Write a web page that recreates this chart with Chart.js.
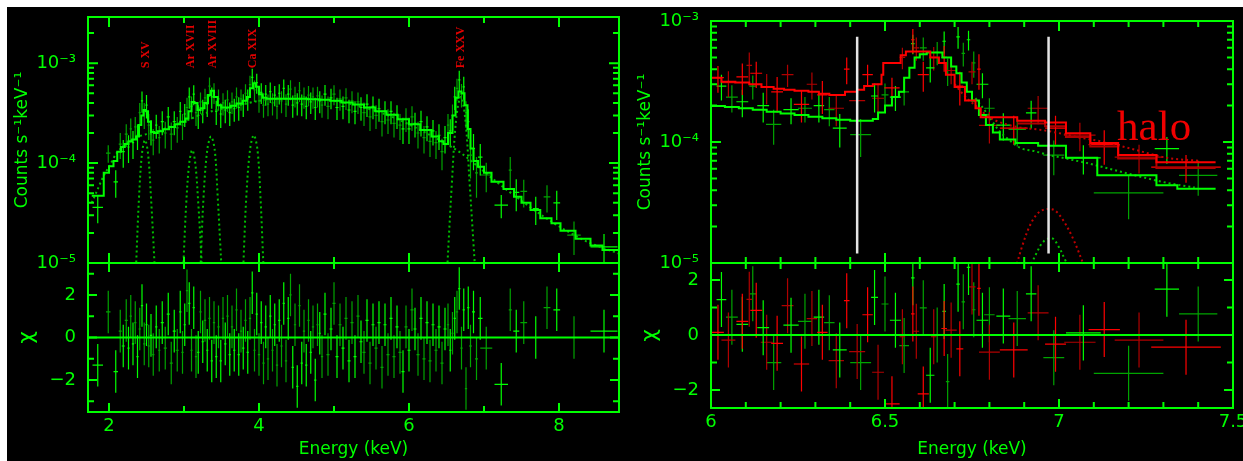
<!DOCTYPE html>
<html>
<head>
<meta charset="utf-8">
<title>Spectra</title>
<script src="https://cdn.jsdelivr.net/npm/chart.js@4.4.1/dist/chart.umd.min.js"></script>
<style>
  html, body { margin: 0; padding: 0; background: #fff; width: 1243px; height: 461px; overflow: hidden; }
  #bg { position: absolute; left: 7px; top: 7px; width: 1236px; height: 454px; background: #000; }
  canvas { position: absolute; }
</style>
</head>
<body>
<div id="bg"></div>
<canvas id="leftSpec"  width="623" height="262" style="left:7px;top:7px;width:623px;height:262px"></canvas>
<canvas id="leftRes"   width="623" height="204" style="left:7px;top:257px;width:623px;height:204px"></canvas>
<canvas id="rightSpec" width="613" height="262" style="left:630px;top:7px;width:613px;height:262px"></canvas>
<canvas id="rightRes"  width="613" height="204" style="left:630px;top:257px;width:613px;height:204px"></canvas>
<script>
/* ═══ spectra + residuals ═══ */
var U = 1e-4;   // spectrum values below are in units of 1e-4 counts s^-1 keV^-1

/* ── left panel: data ── */
var leftE = [
  1.85,1.99,2.09,2.15,2.19,2.23,2.26,2.29,2.32,2.35,
  2.38,2.41,2.44,2.47,2.50,2.53,2.56,2.59,2.63,2.67,
  2.71,2.75,2.79,2.83,2.87,2.91,2.95,2.98,3.01,3.04,
  3.07,3.10,3.13,3.16,3.19,3.22,3.25,3.28,3.31,3.34,
  3.37,3.40,3.43,3.46,3.49,3.52,3.55,3.58,3.61,3.64,
  3.67,3.70,3.73,3.76,3.79,3.82,3.85,3.88,3.91,3.94,
  3.97,4.00,4.03,4.06,4.09,4.12,4.15,4.18,4.21,4.24,
  4.27,4.30,4.33,4.36,4.39,4.42,4.45,4.48,4.51,4.54,
  4.57,4.60,4.63,4.66,4.69,4.72,4.75,4.78,4.81,4.84,
  4.88,4.92,4.96,5.00,5.04,5.08,5.12,5.16,5.20,5.24,
  5.28,5.32,5.36,5.40,5.44,5.48,5.52,5.56,5.60,5.64,
  5.68,5.72,5.76,5.80,5.84,5.88,5.92,5.96,6.00,6.04,
  6.08,6.12,6.16,6.20,6.24,6.28,6.32,6.36,6.40,6.44,
  6.48,6.52,6.55,6.58,6.61,6.64,6.67,6.70,6.73,6.76,
  6.79,6.82,6.86,6.90,6.95,7.03,7.23,7.35,7.43,7.53,
  7.69,7.84,7.97,8.20,8.60];
var leftY = [
  0.36,1.26,0.65,1.55,1.30,1.95,1.45,2.20,1.60,2.30,
  1.90,3.20,4.20,3.10,3.80,2.40,2.10,1.70,2.40,1.80,
  2.60,2.00,2.90,1.95,2.60,2.25,3.30,2.40,3.10,3.60,
  4.60,3.70,4.90,3.20,3.00,4.10,3.40,4.50,3.90,5.90,
  4.60,5.10,3.30,4.40,3.10,4.00,3.40,4.30,3.20,4.10,
  3.50,4.60,3.60,4.40,3.90,5.00,4.40,6.10,7.20,5.40,
  6.40,4.20,5.10,3.80,4.90,3.90,5.20,4.00,4.80,3.70,
  5.00,4.20,5.60,3.90,4.90,5.50,3.80,4.70,4.00,5.30,
  3.90,4.60,3.70,4.80,4.10,4.60,3.60,4.70,4.20,3.80,
  4.90,3.70,4.50,4.90,3.60,4.40,3.70,4.50,3.40,4.20,
  3.30,4.10,3.60,3.20,3.90,2.90,3.70,3.00,3.50,2.60,
  3.30,2.70,3.30,2.50,3.00,2.40,2.20,2.80,2.20,2.90,
  2.50,2.00,2.60,1.80,2.30,1.65,2.10,1.60,1.90,1.30,
  1.80,2.40,2.10,3.00,4.60,5.60,6.80,4.90,5.80,3.20,
  2.60,1.20,1.40,0.80,1.15,0.76,0.38,0.85,0.51,0.52,
  0.35,0.46,0.40,0.19,0.145];
var leftDY = [
  0.11,0.25,0.20,0.45,0.40,0.50,0.45,0.60,0.50,0.60,
  0.55,0.80,1.00,0.90,1.00,0.70,0.60,0.50,0.65,0.55,
  0.70,0.60,0.75,0.60,0.70,0.65,0.80,0.70,0.80,0.90,
  1.10,0.95,1.10,0.85,0.80,1.00,0.90,1.05,1.00,1.30,
  1.10,1.20,0.90,1.05,0.85,1.00,0.90,1.05,0.85,1.00,
  0.90,1.10,0.95,1.05,1.00,1.15,1.05,1.40,1.60,1.30,
  1.45,1.00,1.20,0.95,1.15,0.95,1.20,1.00,1.10,0.95,
  1.15,1.05,1.25,1.00,1.15,1.25,0.95,1.10,1.00,1.20,
  0.95,1.10,0.95,1.10,1.00,1.10,0.90,1.10,1.05,0.95,
  1.15,0.95,1.05,1.10,0.90,1.05,0.95,1.10,0.90,1.05,
  0.85,1.00,0.95,0.85,1.00,0.80,0.95,0.80,0.90,0.75,
  0.85,0.75,0.85,0.70,0.80,0.70,0.65,0.75,0.65,0.80,
  0.70,0.60,0.75,0.55,0.65,0.50,0.60,0.50,0.55,0.45,
  0.55,0.70,0.65,0.85,1.20,1.40,1.60,1.30,1.50,0.95,
  0.85,0.50,0.55,0.35,0.40,0.25,0.10,0.30,0.18,0.16,
  0.11,0.14,0.13,0.07,0.05];
var leftDX = [
  0.07,0.03,0.03,0.02,0.02,0.02,0.015,0.015,0.015,0.015,
  0.015,0.015,0.015,0.015,0.015,0.015,0.015,0.015,0.015,0.015,
  0.02,0.02,0.02,0.02,0.02,0.02,0.015,0.015,0.015,0.015,
  0.015,0.015,0.015,0.015,0.015,0.015,0.015,0.015,0.015,0.015,
  0.015,0.015,0.015,0.015,0.015,0.015,0.015,0.015,0.015,0.015,
  0.015,0.015,0.015,0.015,0.015,0.015,0.015,0.015,0.015,0.015,
  0.015,0.015,0.015,0.015,0.015,0.015,0.015,0.015,0.015,0.015,
  0.015,0.015,0.015,0.015,0.015,0.015,0.015,0.015,0.015,0.015,
  0.015,0.015,0.015,0.015,0.015,0.015,0.015,0.015,0.015,0.015,
  0.02,0.02,0.02,0.02,0.02,0.02,0.02,0.02,0.02,0.02,
  0.02,0.02,0.02,0.02,0.02,0.02,0.02,0.02,0.02,0.02,
  0.02,0.02,0.02,0.02,0.02,0.02,0.02,0.02,0.02,0.02,
  0.02,0.02,0.02,0.02,0.02,0.02,0.02,0.02,0.02,0.02,
  0.02,0.015,0.015,0.015,0.015,0.015,0.015,0.015,0.015,0.015,
  0.015,0.02,0.02,0.02,0.03,0.08,0.09,0.02,0.04,0.045,
  0.04,0.045,0.045,0.09,0.18];
var leftChi = [
  -1.3,1.2,-1.6,0.3,-0.4,0.8,-0.5,1.0,-0.3,0.7,
  -0.9,0.4,1.5,-0.3,0.6,-0.4,0.1,-0.8,0.5,-0.6,
  0.7,-0.5,1.1,-1.2,0.3,-0.6,1.2,-0.7,0.6,2.2,
  1.6,-0.6,1.4,-0.9,-0.7,1.2,-0.2,0.8,-0.6,0.9,
  -1.1,0.7,-0.9,0.5,-1.1,0.9,-0.3,1.0,-0.8,0.5,
  -0.6,1.3,-0.8,0.3,-0.5,0.8,-0.7,0.9,2.1,-0.6,
  1.1,-0.8,0.7,-1.2,0.5,-1.0,1.0,-0.6,0.6,-1.3,
  0.8,-0.4,1.6,-1.1,0.9,2.0,-1.4,0.6,-2.3,1.5,
  -1.2,0.3,-1.3,0.8,-0.7,0.5,-2.0,0.6,0.2,-0.9,
  1.1,-0.8,0.4,1.6,-0.9,0.6,-0.5,0.9,-1.1,0.7,
  -0.9,1.0,-0.2,-0.7,0.8,-1.2,0.6,-0.5,0.7,-1.4,
  0.6,-0.8,0.9,-0.9,0.5,-0.7,-1.6,0.5,-0.6,1.3,
  0.4,-0.8,0.9,-1.0,0.7,-1.1,0.6,-0.6,0.5,-1.2,
  0.4,0.6,-0.6,0.2,0.9,1.2,2.3,-0.5,1.3,-2.4,
  1.4,-0.4,1.2,-1.0,0.9,-0.5,-2.2,1.3,0.3,0.7,
  0.0,1.4,1.3,0.0,0.3];

/* ── left panel: model (bin edges, stepped), continuum and lines ── */
var leftModelE = [1.77,1.93,2.00,2.06,2.11,2.16,2.21,2.26,2.31,2.36,2.40,2.43,2.46,2.49,2.52,2.56,2.60,2.65,2.72,2.80,
  2.88,2.95,3.02,3.06,3.10,3.14,3.18,3.22,3.27,3.32,3.36,3.40,3.45,3.50,3.56,3.62,3.70,3.78,3.84,3.88,
  3.92,3.96,4.00,4.05,4.10,4.20,4.35,4.50,4.65,4.80,4.95,5.10,5.25,5.40,5.55,5.70,5.85,6.00,6.15,6.30,
  6.40,6.46,6.52,6.58,6.62,6.66,6.70,6.74,6.78,6.82,6.86,6.92,7.00,7.10,7.26,7.40,7.50,7.62,7.75,7.90,
  8.02,8.22,8.42,8.58,8.79];
var leftModelY = [0.47,0.80,0.93,1.05,1.30,1.45,1.55,1.65,1.72,1.85,2.40,3.00,3.40,3.30,2.60,2.05,2.00,2.08,2.18,2.30,
  2.45,2.60,2.80,3.30,4.10,4.00,3.40,3.55,4.00,4.80,5.30,4.60,3.80,3.60,3.60,3.75,3.95,4.20,4.60,5.60,
  6.30,5.80,4.90,4.50,4.40,4.40,4.40,4.40,4.35,4.30,4.20,4.05,3.85,3.60,3.30,3.05,2.75,2.45,2.15,1.85,
  1.65,1.55,2.00,3.00,4.50,5.20,5.00,3.80,2.20,1.40,1.05,0.92,0.80,0.65,0.55,0.46,0.40,0.34,0.28,0.25,
  0.21,0.175,0.15,0.135,0.135];
var leftContE = [1.77,1.85,1.93,2.00,2.10,2.20,2.30,2.40,2.50,2.60,2.80,3.00,3.20,3.40,3.60,3.80,
  4.00,4.30,4.60,5.00,5.40,5.80,6.20,6.50,6.70,6.90,7.20,7.50,7.80,8.10,8.40,8.79];
var leftContY = [0.40,0.55,0.75,0.92,1.25,1.50,1.70,1.85,1.95,2.00,2.30,2.60,3.00,3.35,3.60,3.90,
  4.20,4.40,4.40,4.20,3.60,2.85,2.05,1.55,1.25,0.95,0.62,0.42,0.29,0.21,0.16,0.125];
var sLineE   = [2.36,2.40,2.44,2.48,2.52,2.56,2.61], sLineY   = [0.09,0.45,1.25,1.70,1.25,0.45,0.09];
var arLineE  = [2.99,3.03,3.07,3.11,3.15,3.19,3.24], arLineY  = [0.09,0.40,1.00,1.35,1.00,0.40,0.09];
var ar2LineE = [3.22,3.26,3.31,3.36,3.41,3.45,3.50], ar2LineY = [0.09,0.45,1.35,1.85,1.35,0.45,0.09];
var caLineE  = [3.79,3.83,3.88,3.93,3.98,4.02,4.06], caLineY  = [0.09,0.45,1.35,1.90,1.35,0.45,0.09];
var feLineE  = [6.51,6.57,6.63,6.69,6.75,6.81,6.88], feLineY  = [0.09,0.60,2.80,4.60,2.80,0.60,0.09];
var ionE     = [2.49, 3.09, 3.39, 3.92, 6.69];
var ionNames = ['S XV', 'Ar XVII', 'Ar XVIII', 'Ca XIX', 'Fe XXV'];
var ionBase  = 8.9;

/* ── right panel: two data sets (green, red) ── */
var greenE  = [6.03,6.06,6.09,6.12,6.15,6.18,6.23,6.27,6.31,6.34,6.37,6.43,6.47,6.50,6.53,6.555,6.58,6.61,
  6.63,6.65,6.67,6.68,6.71,6.725,6.74,6.755,6.78,6.80,6.84,6.88,6.92,6.985,7.07,7.20,7.31,7.40];
var greenY  = [2.90,2.35,2.15,2.90,2.00,1.40,1.85,1.90,2.00,1.85,1.30,1.15,2.40,2.45,2.35,2.60,6.50,6.00,
  4.10,5.50,6.80,3.90,7.40,5.40,7.00,4.50,3.00,1.90,1.38,1.27,1.74,0.78,0.74,0.38,0.88,0.53];
var greenDY = [0.70,0.60,0.55,0.65,0.55,0.45,0.45,0.45,0.55,0.50,0.40,0.40,0.65,0.60,0.55,0.60,1.20,1.30,
  1.00,1.20,1.40,1.00,1.50,1.20,1.30,1.10,0.70,0.40,0.35,0.35,0.45,0.25,0.20,0.15,0.22,0.17];
var greenDX = [0.014,0.017,0.017,0.010,0.017,0.022,0.022,0.020,0.015,0.015,0.020,0.030,0.010,0.010,0.016,0.014,0.005,0.010,
  0.012,0.006,0.005,0.005,0.005,0.005,0.005,0.005,0.017,0.015,0.020,0.025,0.015,0.030,0.050,0.100,0.035,0.055];
var greenChi = [1.29,0.65,0.39,1.50,0.27,-1.00,0.36,0.50,0.65,0.45,-0.54,-1.00,1.37,1.13,0.54,-0.38,2.08,0.99,
  -1.46,0.00,0.86,-1.69,1.85,1.21,2.46,0.92,0.54,0.74,0.69,0.60,1.50,-0.82,0.08,-1.39,1.67,0.77];

var redE  = [6.02,6.05,6.09,6.11,6.13,6.16,6.19,6.22,6.26,6.29,6.32,6.36,6.39,6.42,6.45,6.48,6.52,6.55,
  6.58,6.59,6.61,6.64,6.67,6.69,6.715,6.75,6.77,6.80,6.87,6.94,6.99,7.06,7.13,7.23,7.365];
var redY  = [3.40,3.10,3.45,4.30,3.70,2.85,2.60,3.60,2.05,3.00,2.45,1.90,4.00,2.20,3.60,2.30,2.80,5.00,
  7.00,6.00,3.60,5.00,5.00,3.90,2.90,3.80,4.00,1.37,1.30,1.90,1.30,1.14,0.95,0.75,0.62];
var redDY = [0.85,0.75,1.00,1.20,0.90,0.80,0.85,0.75,0.60,0.75,0.75,0.55,1.00,0.60,0.75,0.75,0.60,1.00,
  1.60,1.30,1.00,1.10,1.20,0.90,0.90,0.80,1.30,0.40,0.35,0.50,0.35,0.30,0.30,0.20,0.16];
var redDX = [0.017,0.020,0.017,0.008,0.017,0.017,0.017,0.017,0.022,0.015,0.015,0.022,0.008,0.023,0.015,0.017,0.022,0.008,
  0.005,0.008,0.016,0.008,0.008,0.016,0.010,0.010,0.005,0.030,0.040,0.030,0.030,0.045,0.045,0.070,0.100];
var redChi = [0.10,-0.18,0.50,1.30,0.90,-0.26,-0.30,1.07,-1.05,0.60,0.10,-0.93,1.25,-0.60,0.74,-1.35,-2.50,-0.06,
  0.77,0.14,-2.14,-0.06,0.24,0.18,-0.50,1.75,1.70,-0.62,-0.54,0.81,-0.33,-0.26,0.20,-0.18,-0.44];

/* ── right panel: models ── */
var greenModelE = [6.00,6.04,6.08,6.12,6.16,6.20,6.24,6.28,6.32,6.36,6.40,6.465,6.48,6.50,6.52,6.54,6.555,6.57,6.585,
  6.60,6.62,6.665,6.69,6.705,6.72,6.735,6.75,6.77,6.79,6.81,6.83,6.875,6.94,7.02,7.11,7.28,7.34,7.45];
var greenModelY = [1.98,1.95,1.90,1.85,1.78,1.72,1.67,1.62,1.57,1.53,1.50,1.55,1.75,2.00,2.35,2.60,3.40,4.10,5.00,
  5.30,5.50,5.00,4.20,3.70,3.10,2.60,2.20,1.67,1.38,1.20,1.05,0.98,0.93,0.74,0.53,0.44,0.41,0.41];
var redModelE = [6.00,6.03,6.07,6.11,6.145,6.18,6.21,6.24,6.28,6.31,6.34,6.385,6.42,6.44,6.465,6.49,6.495,
  6.545,6.56,6.63,6.655,6.675,6.70,6.73,6.76,6.775,6.88,6.96,7.02,7.09,7.17,7.28,7.45];
var redModelY = [3.40,3.15,3.10,3.00,2.85,2.75,2.70,2.65,2.60,2.50,2.45,2.60,2.70,2.90,3.00,3.60,4.50,
  5.20,5.60,5.00,4.50,3.60,2.85,2.20,1.90,1.60,1.50,1.45,1.18,0.98,0.78,0.68,0.68];
var redModel2E = [6.88,6.96,7.02,7.09,7.17,7.28,7.45];
var redModel2Y = [1.42,1.35,1.10,0.92,0.73,0.61,0.61];
var redContE   = [6.70,6.735,6.76,6.80,6.88,6.94,6.99,7.05,7.13,7.22,7.31,7.40];
var redContY   = [3.00,2.30,2.00,1.60,1.33,1.27,1.20,1.10,1.00,0.86,0.74,0.70];
var greenContE = [6.76,6.79,6.825,6.855,6.89,6.93,6.97,7.01,7.04,7.08,7.155,7.23,7.31,7.39];
var greenContY = [2.30,1.77,1.27,1.05,0.89,0.84,0.78,0.74,0.71,0.67,0.59,0.52,0.46,0.42];
var redHaloE   = [6.875,6.895,6.915,6.935,6.955,6.985,7.01,7.04,7.075];
var redHaloY   = [0.09,0.14,0.20,0.25,0.275,0.275,0.23,0.16,0.09];
var greenHaloE = [6.915,6.935,6.955,6.98,7.00,7.015,7.03];
var greenHaloY = [0.09,0.12,0.15,0.16,0.135,0.11,0.09];
var whiteLineE = [6.42, 6.97];
var whiteLineSpan = [0.12, 7.4];
var haloE = 7.167, haloY = 1.04;

/* ── axes ── */
var LEFT_X = [1.72, 8.80], LEFT_Y = [1e-5, 2.9e-3], LEFT_CHI = [-3.5, 3.5];
var RIGHT_X = [6.0, 7.5],  RIGHT_Y = [1e-5, 1e-3],  RIGHT_CHI = [-2.65, 2.62];
var leftXTicks = [2, 4, 6, 8], leftXMinor = [3, 5, 7];
var rightXTicks = [6, 6.5, 7, 7.5], rightXMinor = [6.1,6.2,6.3,6.4,6.6,6.7,6.8,6.9,7.1,7.2,7.3,7.4];
var decadeTicks = [1e-5, 1e-4, 1e-3];
var chiTicks = [-2, 0, 2];

var GREEN = '#00ff00', GREEN_DIM = '#00a400', RED = '#ff0000', RED_DIM = '#b00000';
var WHITE = '#e4e4e4', RED_TXT = '#e00000';
var FONT  = '"DejaVu Sans", sans-serif';
var SERIF = '"Liberation Serif", "Times New Roman", serif';

/* ── helpers ── */
function xy(xs, ys, k) { return xs.map(function (x, i) { return { x: x, y: ys[i] * k }; }); }

function crossPts(E, Y, DY, DX, k, parity) {
  var out = [];
  E.forEach(function (e, i) {
    if (i % 2 !== parity) return;
    var y = Y[i] * k, dy = (typeof DY === 'number' ? DY : DY[i]) * k, dx = DX[i];
    out.push({x: e - dx, y: y}, {x: e + dx, y: y}, {x: e, y: null},
             {x: e, y: y - dy}, {x: e, y: y + dy}, {x: e, y: null});
  });
  return out;
}

function crossSet(data, color, order) {
  return { data: data, borderColor: color, borderWidth: 1.2, pointRadius: 0, fill: false, spanGaps: false, order: order };
}
function stepSet(data, color, order) {
  return { data: data, borderColor: color, borderWidth: 2, pointRadius: 0, fill: false, stepped: 'before', order: order };
}
function dotSet(data, color, order, smooth) {
  var d = { data: data, borderColor: color, borderWidth: 2, borderDash: [2, 3], pointRadius: 0, fill: false, order: order };
  if (smooth) d.cubicInterpolationMode = 'monotone'; else d.tension = 0.35;
  return d;
}
function plainSet(data, color, width, order) {
  return { data: data, borderColor: color, borderWidth: width, pointRadius: 0, fill: false, spanGaps: false, order: order };
}

function powLabel(v) {
  var sup = { '-': '\u207B', '0': '\u2070', '1': '\u00B9', '2': '\u00B2', '3': '\u00B3', '4': '\u2074', '5': '\u2075' };
  var e = String(Math.round(Math.log10(v)));
  return '10' + e.split('').map(function (c) { return sup[c]; }).join('');
}
function chiLabel(v) { return v < 0 ? '\u2212' + (-v) : String(v); }

function yAxis(type, range, ticks, fmt, title, titleSize, titlePad) {
  return {
    type: type, position: 'left', min: range[0], max: range[1],
    grid: { display: false, drawTicks: false }, border: { display: false },
    afterBuildTicks: function (s) { s.ticks = ticks.map(function (v) { return { value: v }; }); },
    afterFit: function (s) { s.width = 81; s.paddingTop = 0; s.paddingBottom = 0; },
    ticks: { color: GREEN, font: { family: FONT, size: 18 }, padding: 12, autoSkip: false, callback: fmt },
    title: { display: true, text: title, color: GREEN, font: { family: FONT, size: titleSize }, padding: { top: titlePad, bottom: 0 } }
  };
}
function xAxis(range, ticks, show, h) {
  return {
    type: 'linear', position: 'bottom', display: show, min: range[0], max: range[1],
    grid: { display: false, drawTicks: false }, border: { display: false },
    afterBuildTicks: function (s) { s.ticks = ticks.map(function (v) { return { value: v }; }); },
    afterFit: function (s) { s.height = h; s.paddingLeft = 0; s.paddingRight = 0; },
    ticks: { color: GREEN, font: { family: FONT, size: 18 }, padding: 4, autoSkip: false, maxRotation: 0,
             callback: function (v) { return String(v); } },
    title: { display: true, text: 'Energy (keV)', color: GREEN, font: { family: FONT, size: 17 }, padding: { top: 0, bottom: 1 } }
  };
}

function logMinor(range) {
  var out = [];
  for (var d = -6; d <= -2; d++) for (var m = 2; m <= 9; m++) {
    var v = m * Math.pow(10, d);
    if (v > range[0] && v < range[1]) out.push(v);
  }
  return out;
}

/* ── frame with inward ticks, drawn from the chart scales ── */
function framePlugin(t) {
  return {
    id: 'frame',
    afterDatasetsDraw: function (chart) {
      var c = chart.ctx, a = chart.chartArea, sx = chart.scales.x, sy = chart.scales.y;
      c.save();
      c.strokeStyle = GREEN; c.lineWidth = 2;
      c.beginPath();
      function xt(v, len) { var p = sx.getPixelForValue(v); c.moveTo(p, a.top); c.lineTo(p, a.top + len); c.moveTo(p, a.bottom); c.lineTo(p, a.bottom - len); }
      function yt(v, len) { var p = sy.getPixelForValue(v); c.moveTo(a.left, p); c.lineTo(a.left + len, p); c.moveTo(a.right, p); c.lineTo(a.right - len, p); }
      t.xMajor.forEach(function (v) { xt(v, t.major); });
      t.xMinor.forEach(function (v) { xt(v, t.minor); });
      t.yMajor.forEach(function (v) { yt(v, t.major); });
      t.yMinor.forEach(function (v) { yt(v, t.minor); });
      c.stroke();
      c.strokeRect(a.left, a.top, a.right - a.left, a.bottom - a.top);
      c.restore();
    }
  };
}

/* ── text placed in data coordinates ── */
function notesPlugin(items) {
  return {
    id: 'notes',
    afterDatasetsDraw: function (chart) {
      var c = chart.ctx, sx = chart.scales.x, sy = chart.scales.y;
      items.forEach(function (n) {
        c.save();
        c.translate(sx.getPixelForValue(n.x), sy.getPixelForValue(n.y));
        if (n.rotate) c.rotate(n.rotate);
        c.font = n.font; c.fillStyle = n.color;
        c.textAlign = n.align; c.textBaseline = n.baseline;
        c.fillText(n.text, 0, 0);
        c.restore();
      });
    }
  };
}

function makeChart(id, datasets, scales, padding, plugins) {
  return new Chart(document.getElementById(id), {
    type: 'line',
    data: { datasets: datasets },
    options: {
      responsive: false, animation: false, events: [],
      layout: { padding: padding },
      plugins: { legend: { display: false }, tooltip: { enabled: false } },
      scales: scales
    },
    plugins: plugins
  });
}

/* ── left spectrum ── */
var ionNotes = ionE.map(function (e, i) {
  return { text: ionNames[i], x: e, y: ionBase * U, rotate: -Math.PI / 2, font: 'bold 12px ' + SERIF,
           color: RED_TXT, align: 'left', baseline: 'middle' };
});
makeChart('leftSpec', [
  stepSet(xy(leftModelE, leftModelY, U), GREEN, 1),
  dotSet(xy(leftContE, leftContY, U), '#00c000', 2, true),
  dotSet(xy(sLineE, sLineY, U), '#00c000', 3),
  dotSet(xy(arLineE, arLineY, U), '#00c000', 3),
  dotSet(xy(ar2LineE, ar2LineY, U), '#00c000', 3),
  dotSet(xy(caLineE, caLineY, U), '#00c000', 3),
  dotSet(xy(feLineE, feLineY, U), '#00c000', 3),
  crossSet(crossPts(leftE, leftY, leftDY, leftDX, U, 0), GREEN, 4),
  crossSet(crossPts(leftE, leftY, leftDY, leftDX, U, 1), GREEN_DIM, 5)
], {
  x: xAxis(LEFT_X, leftXTicks, false, 0),
  y: yAxis('logarithmic', LEFT_Y, decadeTicks, powLabel, 'Counts s\u207B\u00B9keV\u207B\u00B9', 17, 5)
}, { top: 10, right: 11, bottom: 6, left: 0 }, [
  framePlugin({ xMajor: leftXTicks, xMinor: leftXMinor, yMajor: decadeTicks, yMinor: logMinor(LEFT_Y), major: 10, minor: 6 }),
  notesPlugin(ionNotes)
]);

/* ── left residuals ── */
makeChart('leftRes', [
  plainSet([{ x: LEFT_X[0], y: 0 }, { x: LEFT_X[1], y: 0 }], GREEN, 2, 1),
  crossSet(crossPts(leftE, leftChi, 1, leftDX, 1, 0), GREEN, 2),
  crossSet(crossPts(leftE, leftChi, 1, leftDX, 1, 1), GREEN_DIM, 3)
], {
  x: xAxis(LEFT_X, leftXTicks, true, 49),
  y: yAxis('linear', LEFT_CHI, chiTicks, chiLabel, '\u03C7', 22, 7)
}, { top: 6, right: 11, bottom: 0, left: 0 }, [
  framePlugin({ xMajor: leftXTicks, xMinor: leftXMinor, yMajor: chiTicks, yMinor: [-3, -1, 1, 3], major: 9, minor: 6 })
]);

/* ── right spectrum ── */
var whitePts = [];
whiteLineE.forEach(function (e) {
  whitePts.push({ x: e, y: whiteLineSpan[0] * U }, { x: e, y: whiteLineSpan[1] * U }, { x: e, y: null });
});
makeChart('rightSpec', [
  plainSet(whitePts, WHITE, 2.5, 0),
  stepSet(xy(redModelE, redModelY, U), RED, 1),
  stepSet(xy(redModel2E, redModel2Y, U), RED_DIM, 2),
  stepSet(xy(greenModelE, greenModelY, U), GREEN, 2),
  dotSet(xy(redContE, redContY, U), '#c00000', 3, true),
  dotSet(xy(greenContE, greenContY, U), '#00c000', 3, true),
  dotSet(xy(redHaloE, redHaloY, U), '#c00000', 3),
  dotSet(xy(greenHaloE, greenHaloY, U), '#00c000', 3),
  crossSet(crossPts(redE, redY, redDY, redDX, U, 0), RED, 4),
  crossSet(crossPts(redE, redY, redDY, redDX, U, 1), RED_DIM, 5),
  crossSet(crossPts(greenE, greenY, greenDY, greenDX, U, 0), GREEN, 4),
  crossSet(crossPts(greenE, greenY, greenDY, greenDX, U, 1), GREEN_DIM, 5)
], {
  x: xAxis(RIGHT_X, rightXTicks, false, 0),
  y: yAxis('logarithmic', RIGHT_Y, decadeTicks, powLabel, 'Counts s\u207B\u00B9keV\u207B\u00B9', 17, 5)
}, { top: 14, right: 10, bottom: 6, left: 0 }, [
  framePlugin({ xMajor: rightXTicks, xMinor: rightXMinor, yMajor: decadeTicks, yMinor: logMinor(RIGHT_Y), major: 10, minor: 6 }),
  notesPlugin([{ text: 'halo', x: haloE, y: haloY * U, font: '43px ' + SERIF, color: '#f00000', align: 'left', baseline: 'alphabetic' }])
]);

/* ── right residuals ── */
makeChart('rightRes', [
  plainSet([{ x: RIGHT_X[0], y: 0 }, { x: RIGHT_X[1], y: 0 }], GREEN, 2, 1),
  crossSet(crossPts(redE, redChi, 1, redDX, 1, 0), RED, 2),
  crossSet(crossPts(redE, redChi, 1, redDX, 1, 1), RED_DIM, 3),
  crossSet(crossPts(greenE, greenChi, 1, greenDX, 1, 0), GREEN, 2),
  crossSet(crossPts(greenE, greenChi, 1, greenDX, 1, 1), GREEN_DIM, 3)
], {
  x: xAxis(RIGHT_X, rightXTicks, true, 53),
  y: yAxis('linear', RIGHT_CHI, chiTicks, chiLabel, '\u03C7', 22, 7)
}, { top: 6, right: 10, bottom: 0, left: 0 }, [
  framePlugin({ xMajor: rightXTicks, xMinor: rightXMinor, yMajor: chiTicks, yMinor: [-1, 1], major: 9, minor: 6 })
]);
</script>
</body>
</html>
